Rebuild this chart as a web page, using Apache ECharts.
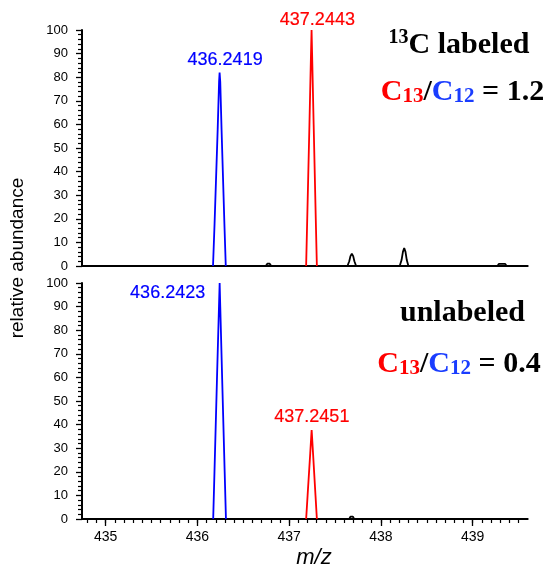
<!DOCTYPE html>
<html><head><meta charset="utf-8">
<script src="https://cdn.jsdelivr.net/npm/echarts@6/dist/echarts.min.js"></script>
<style>html,body{margin:0;padding:0;background:#fff}#c{width:551px;height:566px}</style>
</head><body><div id="c"></div>
<script>
// ---- axis ranges & tick labels ----
const xMin = 434.742, xMax = 439.6;
const xTickLabels = [435, 436, 437, 438, 439];
const yMin = 0, yMax = 100, yStep = 10;

// ---- top panel (13C labeled) traces: [m/z, relative abundance] ----
const topBlue = [[436.170,0],[436.187,18],[436.221,58],[436.236,78],[436.2419,82],[436.249,78],[436.263,58],[436.294,18],[436.309,0]];
const topRed = [[437.185,0],[437.197,20],[437.221,60],[437.238,90],[437.2443,100],[437.250,90],[437.267,60],[437.290,20],[437.302,0]];
const topBlack = [[434.742,0],[436.745,0],[436.762,1],[436.775,1.4],[436.788,1],[436.805,0],
  [437.635,0],[437.655,2],[437.668,4.2],[437.683,5.2],[437.698,4.2],[437.711,2],[437.73,0],
  [438.205,0],[438.225,2.5],[438.24,6],[438.254,7.6],[438.268,6],[438.282,2.5],[438.30,0],
  [439.27,0],[439.285,0.9],[439.355,0.9],[439.37,0],[439.6,0]];
const topPeakLabels = [[436.2419, 82, '436.2419'], [437.2443, 100, '437.2443']];

// ---- bottom panel (unlabeled) traces ----
const botBlue = [[436.172,0],[436.186,20],[436.213,59],[436.235,90],[436.2423,100],[436.249,90],[436.270,59],[436.297,20],[436.311,0]];
const botRed = [[437.185,0],[437.201,10],[437.230,28],[437.243,36.5],[437.2451,37.7],[437.247,36.5],[437.260,28],[437.287,10],[437.302,0]];
const botBlack = [[434.742,0],[437.655,0],[437.668,1],[437.695,1],[437.708,0],[439.6,0]];
const botPeakLabels = [[436.2423, 100, '436.2423'], [437.2451, 37.7, '437.2451']];

// ---- annotation texts ----
const topTitle = ['13', 'C labeled'];
const topRatio = '1.2';
const botTitle = 'unlabeled';
const botRatio = '0.4';
const yName = 'relative abundance';
const xName = 'm/z';

// ---- styling / layout ----
const BLUE = '#0000ff', RED = '#ff0000';
const SANS = '"Liberation Sans", Arial, sans-serif';
const SERIF = '"Liberation Serif", "Times New Roman", serif';
const gridL = 82, gridW = 445.7, gridH = 236;
const minorVals = [];
for (let v = 434.8; v < xMax; v += 0.1) minorVals.push(Math.round(v * 10) / 10);

function yAxis(gi) {
  return {
    type: 'value', gridIndex: gi, min: yMin, max: yMax, interval: yStep,
    axisLine: {show: true, lineStyle: {color: '#000', width: 2}},
    axisTick: {show: true, length: 6, lineStyle: {color: '#000', width: 1.3}},
    minorTick: {show: true, splitNumber: 5, length: 4, lineStyle: {color: '#000', width: 1.2}},
    splitLine: {show: false},
    axisLabel: {color: '#000', fontSize: 13, fontFamily: SANS, margin: 14}
  };
}
function line(data, color, xi, yi) {
  return {type: 'line', data: data, xAxisIndex: xi, yAxisIndex: yi, symbol: 'none',
    lineStyle: {color: color, width: 1.8}, itemStyle: {color: color}, z: 3, clip: false};
}
function labels(arr, color, offsets, xi, yi) {
  return {type: 'scatter', xAxisIndex: xi, yAxisIndex: yi, symbolSize: 1,
    itemStyle: {color: 'rgba(0,0,0,0)'}, z: 4, silent: true,
    data: arr.map((p, i) => ({value: [p[0], p[1]], name: p[2],
      label: {show: true, position: 'inside', offset: offsets[i], formatter: p[2],
        color: color[i], opacity: 1, textBorderColor: color[i], textBorderWidth: 0.2,
        fontSize: 18, fontFamily: SANS}}))};
}
function ratioText(val) {
  return '{r|C}{rs|13}{k|/}{b|C}{bs|12}{k| = ' + val + '}';
}
const ratioRich = {
  r: {fill: RED, fontSize: 30, fontWeight: 'bold', fontFamily: SERIF, lineHeight: 34, verticalAlign: 'bottom'},
  rs: {fill: RED, fontSize: 21, fontWeight: 'bold', fontFamily: SERIF, lineHeight: 28, verticalAlign: 'bottom'},
  b: {fill: '#1a3dff', fontSize: 30, fontWeight: 'bold', fontFamily: SERIF, lineHeight: 34, verticalAlign: 'bottom'},
  bs: {fill: '#1a3dff', fontSize: 21, fontWeight: 'bold', fontFamily: SERIF, lineHeight: 28, verticalAlign: 'bottom'},
  k: {fill: '#000', fontSize: 30, fontWeight: 'bold', fontFamily: SERIF, lineHeight: 34, verticalAlign: 'bottom'}
};

const chart = echarts.init(document.getElementById('c'), null, {renderer: 'canvas'});
chart.setOption({
  animation: false,
  backgroundColor: '#fff',
  grid: [
    {left: gridL, top: 30, width: gridW, height: gridH},
    {left: gridL, top: 283, width: gridW, height: gridH}
  ],
  xAxis: [
    {type: 'value', gridIndex: 0, min: xMin, max: xMax, position: 'bottom',
      axisLine: {show: true, onZero: false, lineStyle: {color: '#000', width: 2}},
      axisTick: {show: false}, axisLabel: {show: false}, splitLine: {show: false}},
    {type: 'value', gridIndex: 1, min: xMin, max: xMax, position: 'bottom',
      axisLine: {show: true, onZero: false, lineStyle: {color: '#000', width: 2}},
      axisTick: {show: true, length: 7, customValues: xTickLabels, lineStyle: {color: '#000', width: 1.3}},
      axisLabel: {show: true, customValues: xTickLabels, color: '#000', fontSize: 14, fontFamily: SANS, margin: 11},
      splitLine: {show: false}},
    {type: 'value', gridIndex: 1, min: xMin, max: xMax, position: 'bottom',
      axisLine: {show: false, onZero: false},
      axisTick: {show: true, length: 4, customValues: minorVals, lineStyle: {color: '#000', width: 1.2}},
      axisLabel: {show: false}, splitLine: {show: false}}
  ],
  yAxis: [yAxis(0), yAxis(1)],
  series: [
    line(topBlack, '#000', 0, 0),
    line(topBlue, BLUE, 0, 0),
    line(topRed, RED, 0, 0),
    labels(topPeakLabels, [BLUE, RED], [[5.5, -12.5], [5.8, -10.3]], 0, 0),
    line(botBlack, '#000', 1, 1),
    line(botBlue, BLUE, 1, 1),
    line(botRed, RED, 1, 1),
    labels(botPeakLabels, [BLUE, RED], [[-52, 10.3], [0.2, -13]], 1, 1)
  ],
  graphic: [
    {type: 'text', x: 17.5, y: 258, rotation: Math.PI / 2,
      style: {text: yName, fill: '#000', fontSize: 19, fontFamily: SANS, align: 'center', verticalAlign: 'middle'}},
    {type: 'text', x: 314, y: 557.5,
      style: {text: xName, fill: '#000', fontSize: 22, fontStyle: 'italic', fontFamily: SANS, align: 'center', verticalAlign: 'middle'}},
    {type: 'text', x: 459, y: 45,
      style: {text: '{sup|' + topTitle[0] + '}{t|' + topTitle[1] + '}', align: 'center', verticalAlign: 'middle',
        rich: {
          sup: {fill: '#000', fontSize: 20, fontWeight: 'bold', fontFamily: SERIF, lineHeight: 22, verticalAlign: 'top'},
          t: {fill: '#000', fontSize: 30, fontWeight: 'bold', fontFamily: SERIF, lineHeight: 34, verticalAlign: 'middle'}
        }}},
    {type: 'text', x: 462.5, y: 90,
      style: {text: ratioText(topRatio), align: 'center', verticalAlign: 'middle', rich: ratioRich}},
    {type: 'text', x: 462.5, y: 313,
      style: {text: botTitle, fill: '#000', fontSize: 30, fontWeight: 'bold', fontFamily: SERIF, align: 'center', verticalAlign: 'middle'}},
    {type: 'text', x: 459, y: 362.5,
      style: {text: ratioText(botRatio), align: 'center', verticalAlign: 'middle', rich: ratioRich}}
  ]
});
</script>
</body></html>
